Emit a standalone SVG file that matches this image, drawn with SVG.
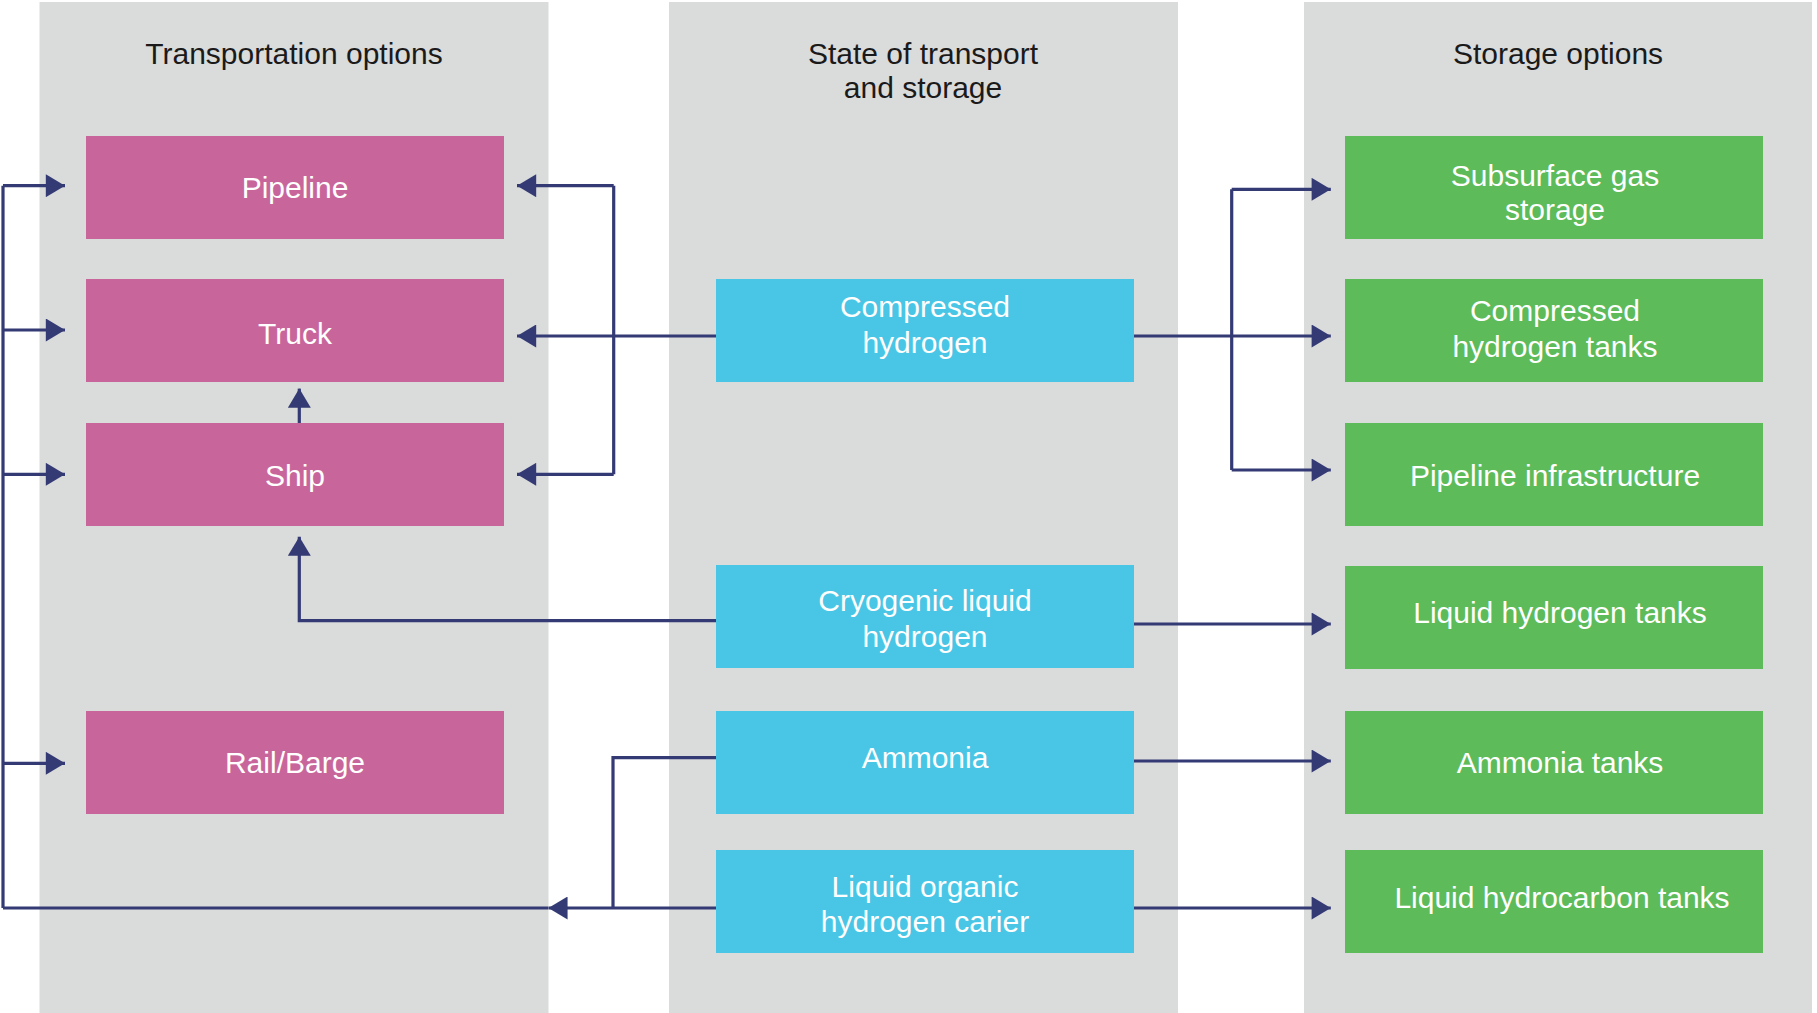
<svg xmlns="http://www.w3.org/2000/svg" width="1817" height="1013" viewBox="0 0 1817 1013">
<style>
.col{fill:#dadbdb}
.title{font-family:"Liberation Sans",Arial,sans-serif;font-size:30px;fill:#1a1a1a;text-anchor:middle}
.lbl{font-family:"Liberation Sans",Arial,sans-serif;font-size:30px;fill:#ffffff;text-anchor:middle}
.pink{fill:#c8669c}
.cyan{fill:#49c6e5}
.green{fill:#5dbb5a}
.c{fill:none;stroke:#333a74;stroke-width:3.2}
.a{marker-end:url(#arr)}
</style>
<defs>
<marker id="arr" viewBox="0 0 20 24" refX="20" refY="12" markerWidth="20" markerHeight="23" markerUnits="userSpaceOnUse" orient="auto">
<path d="M0,0 L20,12 L0,24 z" fill="#333a74"/>
</marker>
</defs>
<rect width="1817" height="1013" fill="#ffffff"/>
<g id="columns">
<rect class="col" x="39.5" y="2" width="509" height="1011"/>
<rect class="col" x="669" y="2" width="509" height="1011"/>
<rect class="col" x="1304" y="2" width="508" height="1011"/>
<text class="title" x="294" y="63.6">Transportation options</text>
<text class="title" x="923" y="63.6">State of transport</text>
<text class="title" x="923" y="98.2">and storage</text>
<text class="title" x="1558" y="63.6">Storage options</text>
</g>
<g id="connectors">
<path class="c" d="M3,908 L3,185.7"/>
<path class="c a" d="M3,185.7 L65,185.7"/>
<path class="c a" d="M3,330 L65,330"/>
<path class="c a" d="M3,474.3 L65,474.3"/>
<path class="c a" d="M3,763.3 L65,763.3"/>
<path class="c" d="M548,908 L3,908"/>
<path class="c a" d="M716,908 L548.4,908"/>
<path class="c" d="M716,757.7 L613,757.7 L613,908"/>
<path class="c a" d="M716,336 L517,336"/>
<path class="c" d="M613.7,185.7 L613.7,474.3"/>
<path class="c a" d="M613.7,185.7 L517,185.7"/>
<path class="c a" d="M613.7,474.3 L517,474.3"/>
<path class="c a" d="M299.3,423 L299.3,388.6"/>
<path class="c a" d="M716,620.7 L299.3,620.7 L299.3,536.7"/>
<path class="c a" d="M1134,336 L1330.8,336"/>
<path class="c" d="M1231.7,189.3 L1231.7,470"/>
<path class="c a" d="M1231.7,189.3 L1330.8,189.3"/>
<path class="c a" d="M1231.7,470 L1330.8,470"/>
<path class="c a" d="M1134,624 L1330.8,624"/>
<path class="c a" d="M1134,761 L1330.8,761"/>
<path class="c a" d="M1134,908 L1330.8,908"/>
</g>
<g id="pipeline"><rect class="pink" x="86" y="136" width="418" height="103"/><text class="lbl" x="295" y="197.5">Pipeline</text></g>
<g id="truck"><rect class="pink" x="86" y="279" width="418" height="103"/><text class="lbl" x="295" y="343.6">Truck</text></g>
<g id="ship"><rect class="pink" x="86" y="423" width="418" height="103"/><text class="lbl" x="295" y="485.7">Ship</text></g>
<g id="rail-barge"><rect class="pink" x="86" y="711" width="418" height="103"/><text class="lbl" x="295" y="773.3">Rail/Barge</text></g>
<g id="compressed-hydrogen"><rect class="cyan" x="716" y="279" width="418" height="103"/><text class="lbl" x="925" y="317">Compressed</text><text class="lbl" x="925" y="352.5">hydrogen</text></g>
<g id="cryogenic-liquid-hydrogen"><rect class="cyan" x="716" y="565" width="418" height="103"/><text class="lbl" x="925" y="610.7">Cryogenic liquid</text><text class="lbl" x="925" y="646.7">hydrogen</text></g>
<g id="ammonia"><rect class="cyan" x="716" y="711" width="418" height="103"/><text class="lbl" x="925" y="768.3">Ammonia</text></g>
<g id="lohc"><rect class="cyan" x="716" y="850" width="418" height="103"/><text class="lbl" x="925" y="896.7">Liquid organic</text><text class="lbl" x="925" y="931.7">hydrogen carier</text></g>
<g id="subsurface-gas-storage"><rect class="green" x="1345" y="136" width="418" height="103"/><text class="lbl" x="1555" y="185.7">Subsurface gas</text><text class="lbl" x="1555" y="220">storage</text></g>
<g id="compressed-hydrogen-tanks"><rect class="green" x="1345" y="279" width="418" height="103"/><text class="lbl" x="1555" y="321.4">Compressed</text><text class="lbl" x="1555" y="357">hydrogen tanks</text></g>
<g id="pipeline-infrastructure"><rect class="green" x="1345" y="423" width="418" height="103"/><text class="lbl" x="1555" y="485.7">Pipeline infrastructure</text></g>
<g id="liquid-hydrogen-tanks"><rect class="green" x="1345" y="566" width="418" height="103"/><text class="lbl" x="1560" y="623.3">Liquid hydrogen tanks</text></g>
<g id="ammonia-tanks"><rect class="green" x="1345" y="711" width="418" height="103"/><text class="lbl" x="1560" y="772.7">Ammonia tanks</text></g>
<g id="liquid-hydrocarbon-tanks"><rect class="green" x="1345" y="850" width="418" height="103"/><text class="lbl" x="1562" y="908.3">Liquid hydrocarbon tanks</text></g>
</svg>
